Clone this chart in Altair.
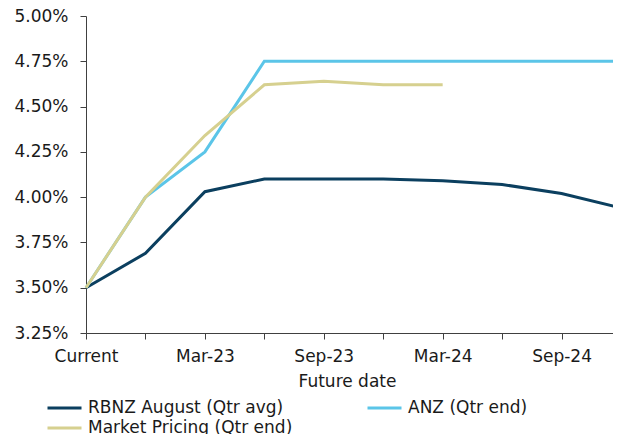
import altair as alt
import pandas as pd

periods = ["Current", "Dec-22", "Mar-23", "Jun-23", "Sep-23", "Dec-23",
           "Mar-24", "Jun-24", "Sep-24", "Dec-24"]
rbnz = [3.50, 3.69, 4.03, 4.10, 4.10, 4.10, 4.09, 4.07, 4.02, 3.94]
anz = [3.50, 4.00, 4.25, 4.75, 4.75, 4.75, 4.75, 4.75, 4.75, 4.75]
market = [3.50, 4.00, 4.34, 4.62, 4.64, 4.62, 4.62, None, None, None]

series_names = ["RBNZ August (Qtr avg)", "ANZ (Qtr end)", "Market Pricing (Qtr end)"]
series_colors = ["#0b3f5f", "#5bc5e8", "#d6d08f"]
shown_labels = ["Current", "Mar-23", "Sep-23", "Mar-24", "Sep-24"]
y_ticks = [3.25, 3.5, 3.75, 4.0, 4.25, 4.5, 4.75, 5.0]

rows = []
for name, vals in zip(series_names, [rbnz, anz, market]):
    for i, (p, v) in enumerate(zip(periods, vals)):
        if v is not None:
            rows.append({"period": p, "rate": v, "series": name, "order": i})
df = pd.DataFrame(rows)

FONT = "DejaVu Sans"
FS = 17
TXT = "#1a1a1a"
AX = "#404040"
label_expr = "indexof(" + str(shown_labels) + ", datum.value) >= 0 ? datum.value : ''"

chart = alt.Chart(df).mark_line(strokeWidth=3).encode(
    x=alt.X("period:N", sort=periods,
            scale=alt.Scale(type="point", padding=0),
            axis=alt.Axis(title="Future date", labelAngle=0, labelExpr=label_expr,
                          tickSize=6, labelPadding=9, titlePadding=9, titleX=261,
                          domainColor=AX, tickColor=AX,
                          labelColor=TXT, titleColor=TXT,
                          labelFontSize=FS, titleFontSize=FS, titleFontWeight="normal",
                          labelFont=FONT, titleFont=FONT, grid=False)),
    y=alt.Y("rate:Q",
            scale=alt.Scale(domain=[3.25, 5.0], nice=False, zero=False),
            axis=alt.Axis(title=None, values=y_ticks,
                          labelExpr="format(datum.value, '.2f') + '%'",
                          tickSize=6, labelPadding=12,
                          domainColor=AX, tickColor=AX,
                          labelColor=TXT, labelFontSize=FS, labelFont=FONT,
                          grid=False)),
    color=alt.Color("series:N", sort=series_names,
                    scale=alt.Scale(domain=series_names, range=series_colors),
                    legend=alt.Legend(title=None, orient="none", legendX=-40, legendY=382,
                                      direction="horizontal", columns=2, columnPadding=73,
                                      symbolType="stroke", symbolSize=1156, symbolStrokeWidth=3,
                                      clipHeight=20, rowPadding=0, labelOffset=5,
                                      labelFontSize=FS, labelFont=FONT, labelColor=TXT,
                                      labelLimit=400)),
    order="order:Q",
).properties(
    width=535, height=317,
    padding={"left": 78, "top": 8, "right": -8, "bottom": 101},
    autosize=alt.AutoSizeParams(type="none"),
).configure_view(stroke=None)

chart.save("out.html", embed_options={"renderer": "svg", "actions": False})
